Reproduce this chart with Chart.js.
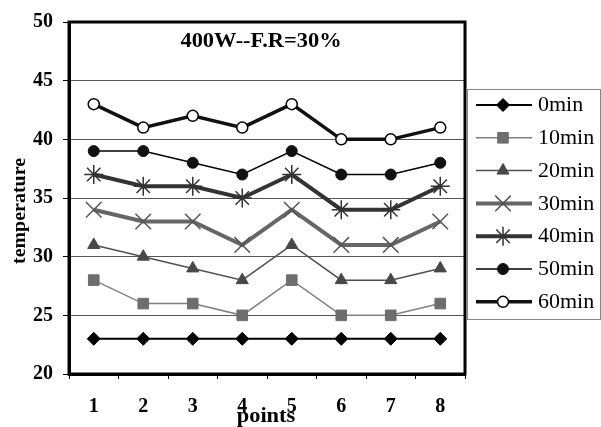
<!DOCTYPE html>
<html>
<head>
<meta charset="utf-8" />
<script src="https://cdn.jsdelivr.net/npm/chart.js@4/dist/chart.umd.min.js"></script>
<style>
  html, body { margin: 0; padding: 0; background: #fff; }
  #wrap { width: 601px; height: 427px; }
</style>
</head>
<body>
<div id="wrap"><canvas id="chart" width="601" height="427"></canvas></div>
<script>
// Temperature at 8 measuring points, sampled every 10 minutes (400W, F.R=30%).

const POINTS = ["1", "2", "3", "4", "5", "6", "7", "8"];
const SERIES_NAMES = ["0min", "10min", "20min", "30min", "40min", "50min", "60min"];

const T0 = [23, 23, 23, 23, 23, 23, 23, 23];
const T10 = [28, 26, 26, 25, 28, 25, 25, 26];
const T20 = [31, 30, 29, 28, 31, 28, 28, 29];
const T30 = [34, 33, 33, 31, 34, 31, 31, 33];
const T40 = [37, 36, 36, 35, 37, 34, 34, 36];
const T50 = [39, 39, 38, 37, 39, 37, 37, 38];
const T60 = [43, 41, 42, 41, 43, 40, 40, 41];

const Y_MIN = 20;
const Y_MAX = 50;
const Y_STEP = 5;

const TITLE = "400W--F.R=30%";
const X_TITLE = "points";
const Y_TITLE = "temperature";

// ---------------------------------------------------------------------------
// Series styles (kept apart from the values)
// ---------------------------------------------------------------------------
const STYLES = [
  { line: "#000", width: 2, shape: "rectRot", r: 6.5, fill: "#000", stroke: "#000", bw: 1 },
  { line: "#808080", width: 1.5, shape: "rect", r: 7.5, fill: "#6e6e6e", stroke: "#6e6e6e", bw: 1 },
  { line: "#505050", width: 1.5, shape: "triangle", r: 7, fill: "#484848", stroke: "#484848", bw: 1 },
  { line: "#666", width: 4, shape: "crossRot", r: 11, fill: "#555", stroke: "#555", bw: 1.5 },
  { line: "#333", width: 4, shape: "star", r: 9.5, fill: "#333", stroke: "#333", bw: 1.5 },
  { line: "#000", width: 1.5, shape: "circle", r: 5.5, fill: "#111", stroke: "#111", bw: 1 },
  { line: "#111", width: 3.5, shape: "circle", r: 5.5, fill: "#fff", stroke: "#000", bw: 1.5 },
];

const SERIES_VALUES = [T0, T10, T20, T30, T40, T50, T60];

const SERIF = "'Liberation Serif', 'Times New Roman', serif";

// ---------------------------------------------------------------------------
// Extra drawing: frame, titles and the boxed legend on the right
// ---------------------------------------------------------------------------
function stretchedText(ctx, text, x, y, font, sx, rotate) {
  ctx.save();
  ctx.translate(x, y);
  if (rotate) ctx.rotate(-Math.PI / 2);
  ctx.scale(sx, 1);
  ctx.font = font;
  ctx.fillStyle = "#000";
  ctx.textAlign = "center";
  ctx.textBaseline = "middle";
  ctx.fillText(text, 0, 0);
  ctx.restore();
}

const extras = {
  id: "extras",
  afterDraw(chart) {
    const { ctx, chartArea: a } = chart;
    ctx.save();

    // heavy plot frame
    ctx.strokeStyle = "#000";
    ctx.lineWidth = 3;
    ctx.strokeRect(a.left, a.top, a.right - a.left, a.bottom - a.top);

    stretchedText(ctx, TITLE, 261, 42, `bold 20px ${SERIF}`, 1.12);
    stretchedText(ctx, X_TITLE, 266, 417, `bold 20px ${SERIF}`, 1.12);
    stretchedText(ctx, Y_TITLE, 20, 211, `bold 19px ${SERIF}`, 1.05, true);

    // legend box
    const box = { x: 467.5, y: 89.5, w: 133, h: 230 };
    ctx.strokeStyle = "#888";
    ctx.lineWidth = 1;
    ctx.strokeRect(box.x, box.y, box.w, box.h);

    chart.data.datasets.forEach((ds, i) => {
      const y = 105 + i * 32.8;
      ctx.strokeStyle = ds.borderColor;
      ctx.lineWidth = ds.borderWidth;
      ctx.beginPath();
      ctx.moveTo(476, y);
      ctx.lineTo(532, y);
      ctx.stroke();

      ctx.fillStyle = ds.pointBackgroundColor;
      ctx.strokeStyle = ds.pointBorderColor;
      ctx.lineWidth = ds.pointBorderWidth;
      Chart.helpers.drawPoint(ctx, {
        pointStyle: ds.pointStyle,
        radius: ds.pointRadius,
        rotation: 0,
        borderWidth: ds.pointBorderWidth,
      }, 503, y);

      ctx.save();
      ctx.translate(538, y);
      ctx.scale(1.1, 1);
      ctx.font = `20px ${SERIF}`;
      ctx.fillStyle = "#000";
      ctx.textAlign = "left";
      ctx.textBaseline = "middle";
      ctx.fillText(ds.label, 0, 1);
      ctx.restore();
    });

    ctx.restore();
  },
};

// ---------------------------------------------------------------------------
// Chart
// ---------------------------------------------------------------------------
const datasets = SERIES_NAMES.map((name, i) => {
  const s = STYLES[i];
  return {
    label: name,
    data: SERIES_VALUES[i],
    borderColor: s.line,
    borderWidth: s.width,
    pointStyle: s.shape,
    pointRadius: s.r,
    pointHoverRadius: s.r,
    pointBackgroundColor: s.fill,
    pointBorderColor: s.stroke,
    pointBorderWidth: s.bw,
    tension: 0,
    fill: false,
    clip: false,
  };
});

new Chart(document.getElementById("chart"), {
  type: "line",
  data: { labels: POINTS, datasets },
  options: {
    responsive: false,
    animation: false,
    events: [],
    layout: { padding: { left: 0, top: 19, right: 136, bottom: 0 } },
    plugins: { legend: { display: false }, title: { display: false }, tooltip: { enabled: false } },
    scales: {
      x: {
        type: "category",
        offset: true,
        afterFit: (s) => { s.height = 53; },
        grid: { offset: true, drawOnChartArea: false, tickLength: 5, tickColor: "#000", tickWidth: 1 },
        border: { display: true, color: "#000", width: 3 },
        ticks: { color: "#000", padding: 16, font: { family: SERIF, size: 20, weight: "bold" } },
      },
      y: {
        min: Y_MIN,
        max: Y_MAX,
        afterFit: (s) => { s.width = 69; },
        grid: { color: "#555", lineWidth: 1, tickLength: 6, tickColor: "#000" },
        border: { display: true, color: "#000", width: 3 },
        ticks: {
          stepSize: Y_STEP,
          color: "#000",
          padding: 10,
          font: { family: SERIF, size: 20, weight: "bold" },
        },
      },
    },
  },
  plugins: [extras],
});
</script>
</body>
</html>
